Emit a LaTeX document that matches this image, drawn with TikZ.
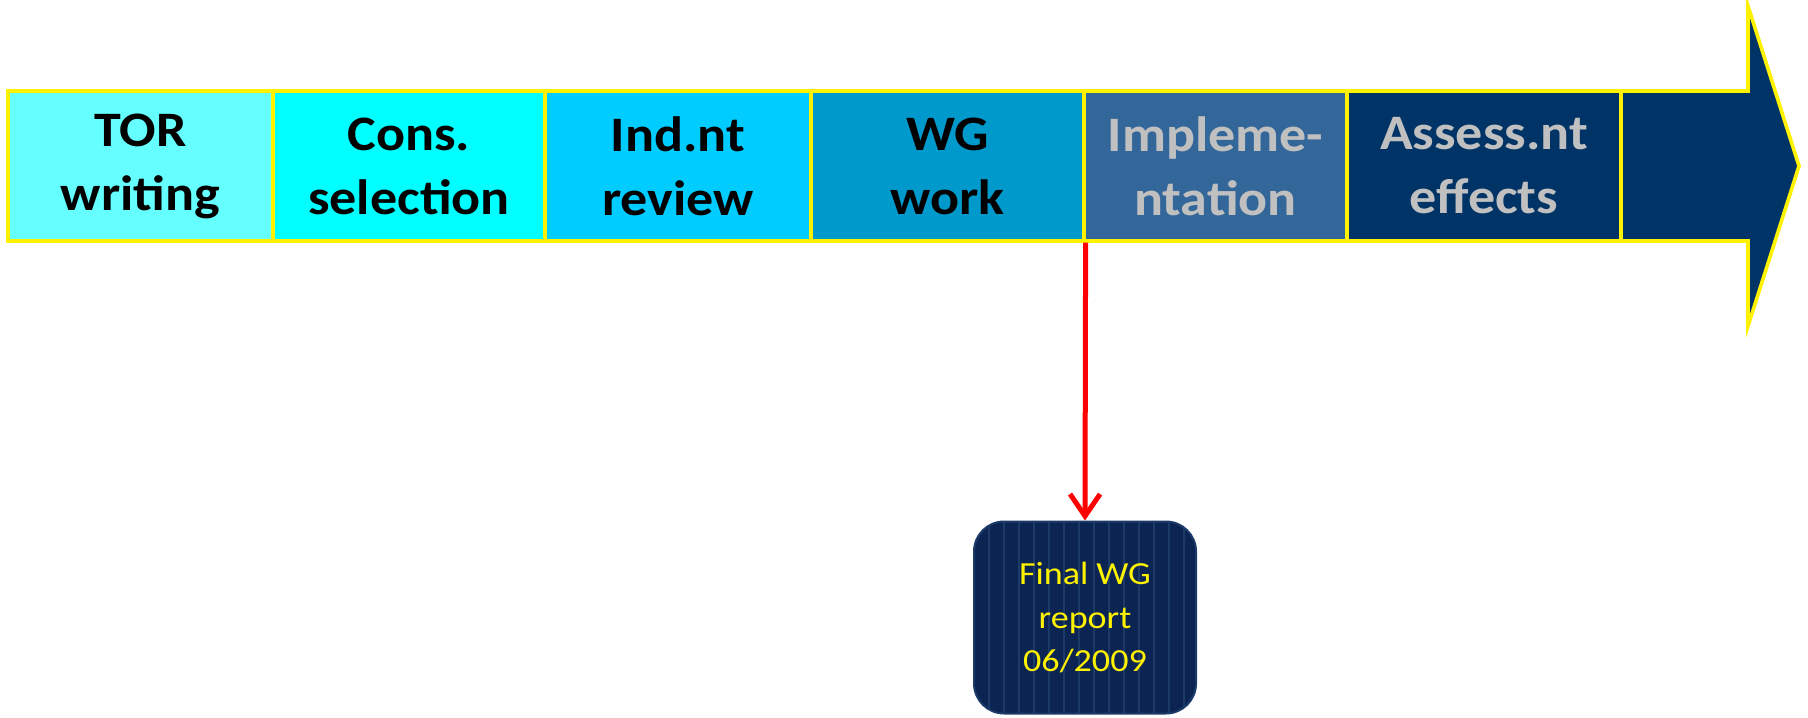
\documentclass[tikz,border=0pt]{standalone}
\usepackage{fontspec}
\setmainfont{Carlito}[FakeStretch=1.12]
\newfontfamily\stagefont{Carlito}[FakeStretch=1.09]
\usepackage{tikz}
\usetikzlibrary{positioning,arrows.meta}
\definecolor{torcol}{HTML}{66FFFF}
\definecolor{conscol}{HTML}{00FFFF}
\definecolor{indcol}{HTML}{00CCFF}
\definecolor{wgcol}{HTML}{0099CC}
\definecolor{implcol}{HTML}{336699}
\definecolor{asscol}{HTML}{003366}
\definecolor{greytxt}{HTML}{C0C0C0}
\definecolor{repcol}{HTML}{0B2452}
\definecolor{stripecol}{HTML}{1C3A68}
\tikzset{
  stage/.style={draw=yellow,line width=1.6pt,minimum height=75pt,inner sep=0pt,
    align=center,font=\stagefont\bfseries\fontsize{24.8}{32}\selectfont,
    execute at begin node={\vspace*{4pt}}},
  redarrow/.style={draw=red,line width=2.5pt,-{Straight Barb[length=11pt,width=15pt]}}
}

\begin{document}
\begin{tikzpicture}[x=0.5pt,y=0.5pt,yscale=-1]
\useasboundingbox (0,0) rectangle (1808,717);

%arrow body and head
\draw [fill=asscol,draw=yellow,line width=1.8pt,line join=miter] (1621,91) -- (1748,91) -- (1748,6) -- (1799,166) -- (1748,326) -- (1748,241) -- (1621,241) -- cycle;

%stages
\node[stage,fill=torcol,minimum width=132.5pt] (tor) at (140.5,166) {TOR\\writing};
\node[stage,fill=conscol,minimum width=136pt] (cons) at (409,166) {Cons.\\selection};
\node[stage,fill=indcol,minimum width=133pt] (ind) at (678,166) {Ind.nt\\review};
\node[stage,fill=wgcol,minimum width=136.5pt] (wg) at (947.5,166) {WG\\work};
\node[stage,fill=implcol,text=greytxt,minimum width=131.5pt] (impl) at (1215.5,166) {Impleme-\\ntation};
\node[stage,fill=asscol,text=greytxt,minimum width=137pt] (ass) at (1484,166) {Assess.nt\\effects};

%report box
\node[draw=stripecol,line width=1pt,fill=repcol,rounded corners=15pt,minimum width=111pt,minimum height=96pt,
  text=yellow,align=center,font=\fontsize{16.1}{21.8}\selectfont,
  path picture={\foreach \i in {1,...,14}
    \draw[stripecol,line width=0.8pt] ([xshift=\i*7.5pt]path picture bounding box.south west) -- ([xshift=\i*7.5pt]path picture bounding box.north west);}]
  (report) at (1085,617.5) {Final WG\\report\\06/2009};

%connector
\draw[redarrow] (wg.south east) -- (report.north);
\end{tikzpicture}
\end{document}
